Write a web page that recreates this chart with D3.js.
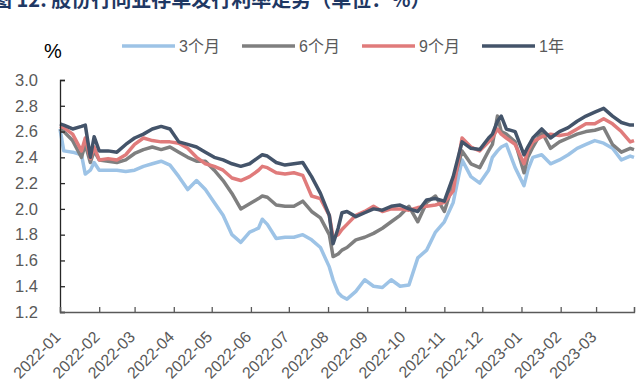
<!DOCTYPE html>
<html>
<head>
<meta charset="utf-8">
<script src="https://cdn.jsdelivr.net/npm/d3@7"></script>
<style>
html,body{margin:0;padding:0;background:#fff;}
svg{display:block;font-family:"Liberation Sans",Arial,"Noto Sans CJK SC",sans-serif;}
</style>
</head>
<body>
<svg id="chart" width="636" height="385"></svg>
<script>
// ---- data ----
const dates = ["2022-01-01","2022-01-04","2022-01-11","2022-01-18","2022-01-21","2022-01-25","2022-01-28","2022-02-01","2022-02-08","2022-02-15","2022-02-22",
"2022-03-01","2022-03-08","2022-03-15","2022-03-22","2022-03-29","2022-04-05","2022-04-12","2022-04-19","2022-04-26",
"2022-05-03","2022-05-10","2022-05-17","2022-05-24","2022-05-31","2022-06-07","2022-06-10","2022-06-14","2022-06-21","2022-06-28",
"2022-07-05","2022-07-12","2022-07-19","2022-07-26","2022-08-02","2022-08-05","2022-08-09","2022-08-12","2022-08-16","2022-08-23","2022-08-30",
"2022-09-06","2022-09-13","2022-09-20","2022-09-27","2022-10-04","2022-10-11","2022-10-18","2022-10-25",
"2022-11-01","2022-11-08","2022-11-15","2022-11-22","2022-11-29","2022-12-06","2022-12-09","2022-12-13","2022-12-16","2022-12-20","2022-12-27",
"2023-01-03","2023-01-06","2023-01-10","2023-01-17","2023-01-24","2023-01-31","2023-02-07","2023-02-14","2023-02-21","2023-02-28",
"2023-03-07","2023-03-14","2023-03-21","2023-03-28","2023-03-31"];

const m3 = [2.62,2.45,2.44,2.42,2.27,2.30,2.36,2.30,2.30,2.30,2.29,
2.30,2.33,2.35,2.37,2.34,2.25,2.15,2.22,2.15,
2.05,1.95,1.80,1.74,1.82,1.85,1.92,1.88,1.77,1.78,
1.78,1.80,1.76,1.70,1.55,1.45,1.35,1.32,1.30,1.36,1.45,
1.40,1.39,1.45,1.40,1.41,1.62,1.68,1.82,
1.90,2.05,2.38,2.25,2.20,2.30,2.40,2.45,2.48,2.50,2.32,
2.18,2.30,2.40,2.42,2.35,2.38,2.42,2.47,2.50,2.53,
2.51,2.47,2.38,2.41,2.40];

const m6 = [2.62,2.60,2.53,2.40,2.50,2.36,2.45,2.38,2.37,2.36,2.38,
2.43,2.46,2.48,2.46,2.48,2.44,2.40,2.37,2.37,
2.30,2.22,2.12,2.00,2.04,2.08,2.10,2.09,2.03,2.02,
2.02,2.06,1.98,1.93,1.80,1.63,1.65,1.68,1.70,1.76,1.78,
1.81,1.85,1.90,1.95,2.02,1.90,2.05,2.10,
1.98,2.20,2.45,2.35,2.32,2.45,2.50,2.72,2.60,2.58,2.52,
2.28,2.40,2.48,2.60,2.47,2.52,2.55,2.58,2.60,2.61,
2.63,2.50,2.44,2.47,2.46];

const m9 = [2.64,2.63,2.58,2.45,2.55,2.39,2.48,2.38,2.39,2.38,2.42,
2.50,2.55,2.53,2.52,2.52,2.51,2.47,2.40,2.35,
2.33,2.30,2.24,2.22,2.25,2.30,2.33,2.32,2.28,2.27,
2.28,2.26,2.10,2.08,1.95,1.78,1.80,1.84,1.88,1.95,1.98,
2.02,1.98,2.00,2.00,1.99,2.01,2.02,2.03,
2.05,2.14,2.55,2.48,2.45,2.52,2.55,2.62,2.58,2.55,2.50,
2.35,2.45,2.52,2.56,2.58,2.57,2.58,2.62,2.66,2.66,
2.70,2.66,2.60,2.52,2.53];

const y1 = [2.66,2.65,2.62,2.64,2.65,2.40,2.56,2.45,2.45,2.44,2.50,
2.55,2.58,2.62,2.64,2.62,2.52,2.50,2.48,2.44,
2.40,2.38,2.35,2.33,2.35,2.40,2.42,2.41,2.36,2.34,
2.35,2.36,2.25,2.12,1.95,1.73,1.85,1.97,1.98,1.94,1.97,
2.00,1.99,2.02,2.03,2.00,1.98,2.07,2.08,
2.06,2.25,2.52,2.47,2.46,2.55,2.58,2.68,2.72,2.62,2.60,
2.42,2.48,2.55,2.62,2.55,2.60,2.63,2.68,2.72,2.75,
2.78,2.72,2.67,2.65,2.65];

const seriesNames = ["3个月","6个月","9个月","1年"];
const seriesColors = ["#9DC3E6","#7F7F7F","#E07B7B","#44546A"];
const yTicks = [1.2,1.4,1.6,1.8,2.0,2.2,2.4,2.6,2.8,3.0];
const xTickLabels = ["2022-01","2022-02","2022-03","2022-04","2022-05","2022-06","2022-07","2022-08",
"2022-09","2022-10","2022-11","2022-12","2023-01","2023-02","2023-03"];

// ---- drawing ----
const svg = d3.select("#chart");
const parse = d3.timeParse("%Y-%m-%d");
const parseM = d3.timeParse("%Y-%m");
const M = {left: 60, right: 634, top: 80, bottom: 312};

const x = d3.scaleTime().domain([parse("2022-01-01"), parse("2023-03-31")]).range([M.left, M.right]);
const y = d3.scaleLinear().domain([1.2, 3.0]).range([M.bottom, M.top]);

// title (cut off at top, as in the reference)
svg.append("text").attr("x", -8).attr("y", 7)
  .attr("font-size", 20).attr("font-weight", "bold").attr("fill", "#1F3864")
  .attr("font-family", "'Noto Sans CJK SC',sans-serif")
  .text("图 12: 股份行同业存单发行利率走势（单位：%）");

// lines
const all = [m3, m6, m9, y1];
const line = d3.line().x(d => x(d.date)).y(d => y(d.v));
all.forEach((vals, i) => {
  const pts = dates.map((d, j) => ({date: parse(d), v: vals[j]}));
  svg.append("path").datum(pts)
    .attr("fill", "none").attr("stroke", seriesColors[i])
    .attr("stroke-width", 3.5).attr("stroke-linejoin", "round")
    .attr("d", line);
});

// y axis
const yAxis = d3.axisLeft(y).tickValues(yTicks).tickFormat(d3.format(".1f")).tickSize(-5).tickPadding(22);
const gy = svg.append("g").attr("transform", `translate(${M.left},0)`).call(yAxis);
gy.select(".domain").attr("stroke", "#262626").attr("stroke-width", 1.3);
gy.selectAll(".tick line").attr("stroke", "#262626").attr("stroke-width", 1.3);
gy.selectAll(".tick text").attr("font-size", 16.5).attr("fill", "#595959")
  .attr("font-family", "'Liberation Sans',Arial,sans-serif");

// x axis
const xAxis = d3.axisBottom(x).tickValues(xTickLabels.map(parseM).concat([parse("2023-03-31")]))
  .tickFormat((d, i) => i < xTickLabels.length ? xTickLabels[i] : "").tickSize(-5);
const gx = svg.append("g").attr("transform", `translate(0,${M.bottom})`).call(xAxis);
gx.select(".domain").attr("stroke", "#595959").attr("stroke-width", 1.3);
gx.selectAll(".tick line").attr("stroke", "#595959").attr("stroke-width", 1.3);
gx.selectAll(".tick text").attr("font-size", 16).attr("fill", "#595959")
  .attr("font-family", "'Liberation Sans',Arial,sans-serif")
  .attr("text-anchor", "end").attr("dy", 0).attr("y", 0)
  .attr("transform", "translate(1,26) rotate(-45)");

// unit label
svg.append("text").attr("x", 44).attr("y", 58).attr("font-size", 20).attr("fill", "#000")
  .attr("font-family", "'Liberation Sans',Arial,sans-serif").text("%");

// legend
const legX = [122, 242, 362, 482];
seriesNames.forEach((n, i) => {
  svg.append("line").attr("x1", legX[i]).attr("x2", legX[i] + 53).attr("y1", 46).attr("y2", 46)
    .attr("stroke", seriesColors[i]).attr("stroke-width", 3.5);
  svg.append("text").attr("x", legX[i] + 57).attr("y", 52).attr("font-size", 16).attr("fill", "#595959")
    .attr("font-family", "'Liberation Sans','Noto Sans CJK SC',sans-serif").text(n);
});
</script>
</body>
</html>
